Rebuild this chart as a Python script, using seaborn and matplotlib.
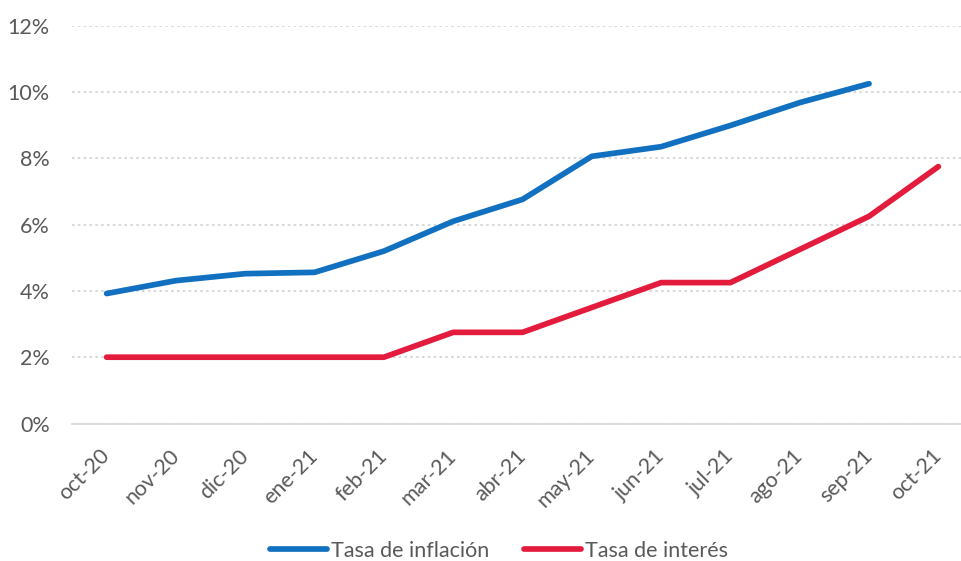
import matplotlib
matplotlib.use("Agg")
import matplotlib.pyplot as plt
import seaborn as sns
import pandas as pd
import numpy as np
from matplotlib.ticker import FuncFormatter, FixedLocator

months = ["oct-20", "nov-20", "dic-20", "ene-21", "feb-21", "mar-21", "abr-21",
          "may-21", "jun-21", "jul-21", "ago-21", "sep-21", "oct-21"]
inflacion = [3.92, 4.31, 4.52, 4.56, 5.20, 6.10, 6.76, 8.06, 8.35, 8.99, 9.68, 10.25]
interes = [2.00, 2.00, 2.00, 2.00, 2.00, 2.75, 2.75, 3.50, 4.25, 4.25, 5.25, 6.25, 7.75]
yticks = [0, 2, 4, 6, 8, 10, 12]

sns.set_style("white")
plt.rcParams['font.family'] = ['Lato', 'DejaVu Sans']

blue = "#1170C0"
red = "#E31C3D"
gray_text = "#595959"
grid_c = "#D9D9D9"
fs = 15.5

df_inf = pd.DataFrame({"x": np.arange(len(inflacion)), "y": inflacion})
df_int = pd.DataFrame({"x": np.arange(len(interes)), "y": interes})

fig = plt.figure(figsize=(9.61, 5.61), dpi=100)
ax = fig.add_axes([72/961, 1-423.5/561, 901/961, (423.5-25.7)/561])

sns.lineplot(data=df_inf, x="x", y="y", ax=ax, color=blue, linewidth=4.1,
             label="Tasa de inflación", solid_capstyle="round", solid_joinstyle="round")
sns.lineplot(data=df_int, x="x", y="y", ax=ax, color=red, linewidth=4.1,
             label="Tasa de interés", solid_capstyle="round", solid_joinstyle="round")

ax.set_xlim(-0.5, len(months) - 0.5)
ax.set_ylim(0, 12)
ax.set_yticks(yticks)
ax.yaxis.set_major_formatter(FuncFormatter(lambda v, p: f"{v:.0f}%"))
ax.set_xticks(np.arange(len(months)))
ax.set_xticklabels(months, rotation=45, ha="right", va="center", rotation_mode="anchor")
ax.xaxis.set_minor_locator(FixedLocator(np.arange(len(months) + 1) - 0.5))
ax.tick_params(axis="x", which="major", length=0, pad=21, labelsize=fs, labelcolor=gray_text)
ax.tick_params(axis="x", which="minor", length=7, width=1.3, color=grid_c, direction="out")
ax.tick_params(axis="y", length=0, pad=16, labelsize=fs, labelcolor=gray_text)

ax.set_xlabel("")
ax.set_ylabel("")
for s in ["top", "right", "left"]:
    ax.spines[s].set_visible(False)
ax.spines["bottom"].set_color(grid_c)
ax.spines["bottom"].set_linewidth(1.3)
ax.grid(axis="y", color=grid_c, linestyle=(0, (1.2, 1.6)), linewidth=1.5)
ax.grid(axis="x", visible=False)
ax.set_axisbelow(True)

leg = ax.legend(loc="center", bbox_to_anchor=(499/961, 1-551/561), bbox_transform=fig.transFigure,
                ncol=2, frameon=False, fontsize=fs, handlelength=2.65, handletextpad=0.2,
                columnspacing=1.6, labelcolor=gray_text, borderpad=0, borderaxespad=0)
for h in leg.get_lines():
    h.set_linewidth(4.1)
    h.set_solid_capstyle("round")

fig.savefig("out.png", dpi=100)
